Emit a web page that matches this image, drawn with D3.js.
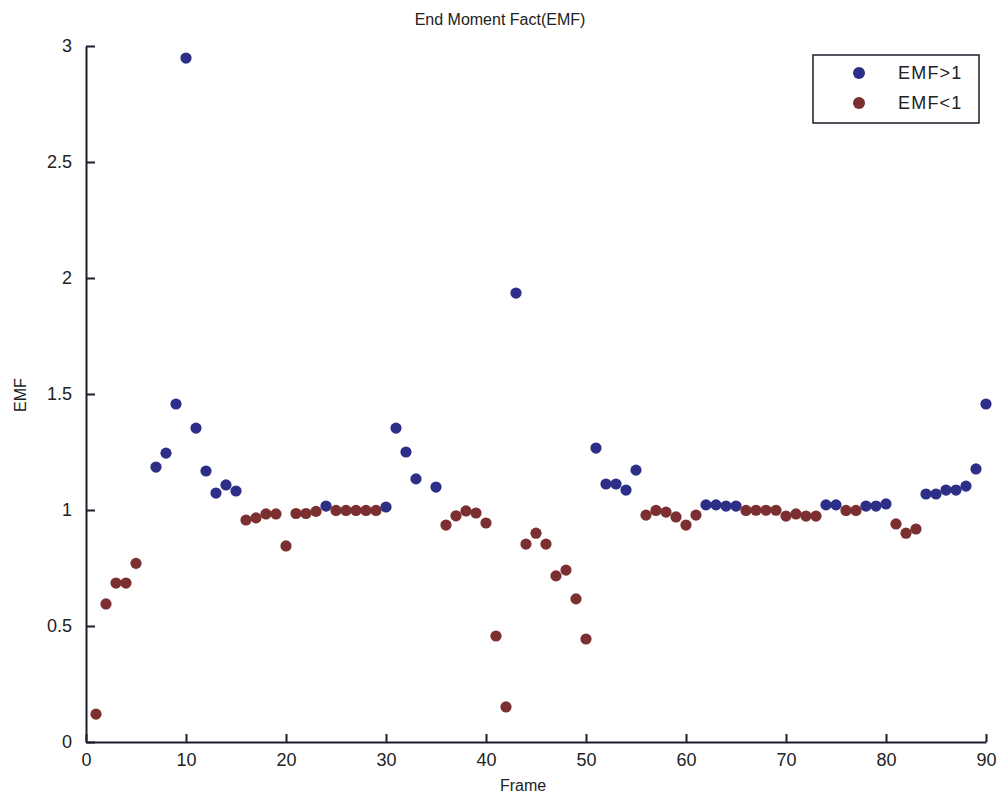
<!DOCTYPE html>
<html>
<head>
<meta charset="utf-8">
<script src="https://cdn.jsdelivr.net/npm/d3@7"></script>
<style>
  html, body { margin: 0; padding: 0; background: #fff; }
  svg { display: block; }
  text { font-family: "Liberation Sans", Arial, sans-serif; fill: #222; }
</style>
</head>
<body>
<svg id="chart" width="1002" height="802"></svg>
<script>
// Frame numbers (frames 6 and 34 have no sample)
const frames = [
  1, 2, 3, 4, 5, 7, 8, 9, 10,
  11, 12, 13, 14, 15, 16, 17, 18, 19, 20,
  21, 22, 23, 24, 25, 26, 27, 28, 29, 30,
  31, 32, 33, 35, 36, 37, 38, 39, 40,
  41, 42, 43, 44, 45, 46, 47, 48, 49, 50,
  51, 52, 53, 54, 55, 56, 57, 58, 59, 60,
  61, 62, 63, 64, 65, 66, 67, 68, 69, 70,
  71, 72, 73, 74, 75, 76, 77, 78, 79, 80,
  81, 82, 83, 84, 85, 86, 87, 88, 89, 90
];

// End moment factor per frame
const emf = [
  0.12, 0.595, 0.685, 0.685, 0.77, 1.185, 1.245, 1.457, 2.948,
  1.353, 1.168, 1.073, 1.108, 1.082, 0.957, 0.966, 0.983, 0.983, 0.845,
  0.985, 0.985, 0.994, 1.017, 0.998, 0.998, 0.998, 0.998, 0.998, 1.013,
  1.353, 1.25, 1.134, 1.099, 0.935, 0.975, 0.996, 0.987, 0.944,
  0.457, 0.151, 1.935, 0.853, 0.9, 0.853, 0.716, 0.741, 0.617, 0.444,
  1.267, 1.112, 1.112, 1.086, 1.172, 0.978, 0.998, 0.991, 0.97, 0.935,
  0.978, 1.022, 1.022, 1.017, 1.017, 0.998, 0.999, 0.999, 0.999, 0.974,
  0.983, 0.974, 0.974, 1.022, 1.022, 0.998, 0.998, 1.017, 1.017, 1.026,
  0.94, 0.9, 0.918, 1.069, 1.069, 1.086, 1.086, 1.103, 1.177, 1.457
];

const xTicks = [0, 10, 20, 30, 40, 50, 60, 70, 80, 90];
const yTicks = [0, 0.5, 1, 1.5, 2, 2.5, 3];
const legendLabels = ["EMF>1", "EMF<1"];
const seriesColors = ["#2c2e88", "#7c2f30"];

const svg = d3.select("#chart");
const margin = { left: 86, right: 16, top: 46, bottom: 60 };
const W = 1002, H = 802;

const x = d3.scaleLinear().domain([0, 90]).range([margin.left, W - margin.right]);
const y = d3.scaleLinear().domain([0, 3]).range([H - margin.bottom, margin.top]);

// Bottom axis, ticks pointing into the plot
const xAxis = d3.axisBottom(x).tickValues(xTicks).tickSizeInner(-8).tickSizeOuter(0).tickPadding(11);
const gx = svg.append("g").attr("transform", `translate(0,${y(0)})`).call(xAxis);

// Left axis, ticks pointing into the plot
const yAxis = d3.axisLeft(y).tickValues(yTicks).tickSizeInner(-9).tickSizeOuter(0)
  .tickPadding(14).tickFormat(d3.format(""));
const gy = svg.append("g").attr("transform", `translate(${x(0)},0)`).call(yAxis);

[gx, gy].forEach(g => {
  g.select(".domain").attr("stroke", "#1c1c2c").attr("stroke-width", 2);
  g.selectAll(".tick line").attr("stroke", "#1c1c2c").attr("stroke-width", 2);
  g.selectAll(".tick text").attr("font-size", 18).attr("fill", "#1e1e1e")
    .attr("font-family", "'Liberation Sans', Arial, sans-serif");
});
gx.selectAll(".tick text").attr("dy", "0.71em");

// Points
const pts = frames.map((f, i) => ({ f, v: emf[i] }));
svg.append("g").selectAll("circle").data(pts).join("circle")
  .attr("cx", d => x(d.f))
  .attr("cy", d => y(d.v))
  .attr("r", 5.6)
  .attr("fill", d => d.v > 1 ? seriesColors[0] : seriesColors[1]);

// Title and axis labels
svg.append("text").attr("x", 500).attr("y", 25).attr("text-anchor", "middle")
  .attr("font-size", 16)
  .text("End Moment Fact(EMF)");
svg.append("text").attr("x", 523).attr("y", 791).attr("text-anchor", "middle")
  .attr("font-size", 16)
  .text("Frame");
svg.append("text").attr("transform", "translate(26,395) rotate(-90)").attr("text-anchor", "middle")
  .attr("font-size", 16)
  .text("EMF");

// Legend
const lg = svg.append("g");
lg.append("rect").attr("x", 813).attr("y", 55).attr("width", 166).attr("height", 68)
  .attr("fill", "#fff").attr("stroke", "#1c1c2c").attr("stroke-width", 1.5);
legendLabels.forEach((lab, i) => {
  const cy = 73 + i * 30;
  lg.append("circle").attr("cx", 859).attr("cy", cy).attr("r", 6).attr("fill", seriesColors[i]);
  lg.append("text").attr("x", 898).attr("y", cy).attr("dy", "0.36em")
    .attr("font-size", 18).attr("letter-spacing", 1.2)
    .text(lab);
});
</script>
</body>
</html>
